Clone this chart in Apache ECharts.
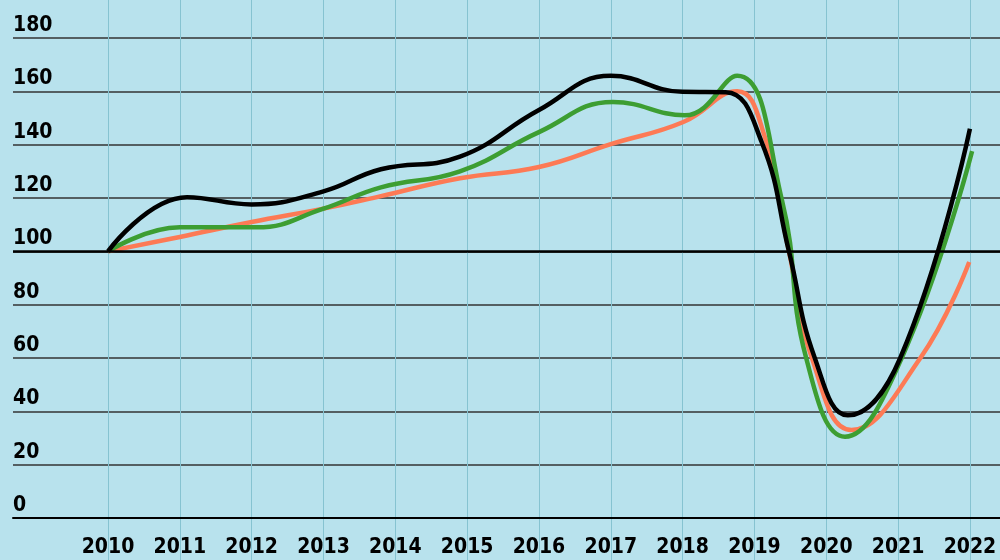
<!DOCTYPE html>
<html>
<head>
<meta charset="utf-8">
<script src="https://cdn.jsdelivr.net/npm/echarts@6/dist/echarts.min.js"></script>
<style>
html,body{margin:0;padding:0;background:#b8e2ed;}
#c2{width:1000px;height:560px;}
</style>
</head>
<body>
<div id="c2"></div>
<script>
var years = [2010,2011,2012,2013,2014,2015,2016,2017,2018,2019,2020,2021,2022];
var yTicks = [0,20,40,60,80,100,120,140,160,180];

// [year, index]
var blackData = [[2010,100],[2011.1,120.3],[2012,117.6],[2013,122.5],[2013.8,130.8],[2014.9,135.5],
  [2016,153],[2017,165.8],[2018,159.8],[2018.6,159.7],[2019.1,141],[2019.48,100],[2019.84,60],
  [2020.3,38.5],[2021.03,60],[2022,146]];
var greenData = [[2010,100],[2011,109],[2012.07,109],[2013,116],[2013.8,124],[2014.9,130],
  [2016,144.7],[2017.03,156],[2018.03,151],[2018.76,165.8],[2019.38,119.5],
  [2019.72,60],[2020.26,30.5],[2021.05,60],[2022.03,137.6]];
var orangeData = [[2010,100],[2011,105.4],[2012,111],[2013,116],[2013.8,120.7],[2014.9,127.4],
  [2016,131.6],[2017,140.2],[2018.01,148.5],[2018.76,160],[2019.12,145],[2019.48,100],[2019.8,60],
  [2020.35,33],[2021.31,60],[2021.99,96]];

var font = '"Liberation Sans Narrow","DejaVu Sans Condensed",sans-serif';
var xMin = 2008.6775, xMax = 2022.4185;

var chart = echarts.init(document.getElementById('c2'));

function lineSeries(name, data, color, z) {
  return {
    name: name, type: 'line', data: data, smooth: 0.45,
    symbol: 'none', z: z, xAxisIndex: 0, yAxisIndex: 0,
    lineStyle: {color: color, width: 4.5}
  };
}

var blackSeries = lineSeries('black', blackData, '#000', 5);
blackSeries.markLine = {silent: true, symbol: 'none', label: {show: false},
  lineStyle: {color: '#000', width: 2.5, type: 'solid'},
  data: [{yAxis: 100}]};

var option = {
  backgroundColor: '#b8e2ed',
  animation: false,
  grid: [
    {left: 13, right: 0, top: 38, bottom: 42},
    {left: 13, right: 0, top: 0, bottom: 0}
  ],
  xAxis: [{
    type: 'value', gridIndex: 0, min: xMin, max: xMax,
    axisLine: {show: true, lineStyle: {color: '#000', width: 2}},
    axisTick: {show: false, customValues: years},
    splitLine: {show: false},
    axisLabel: {customValues: years, formatter: function(v){ return String(Math.round(v)); },
      color: '#000', fontFamily: font, fontSize: 21, fontWeight: 'bold', margin: 19}
  }, {
    type: 'value', gridIndex: 1, min: xMin, max: xMax,
    axisLine: {show: false}, axisLabel: {show: false},
    axisTick: {show: false, customValues: years},
    splitLine: {show: true, lineStyle: {color: '#86c3d1', width: 1}}
  }],
  yAxis: [{
    type: 'value', gridIndex: 0, min: 0, max: 180, interval: 20,
    axisLine: {show: false}, axisTick: {show: false},
    splitLine: {show: true, lineStyle: {color: '#333', width: 1.5}},
    axisLabel: {inside: true, align: 'left', verticalAlign: 'bottom', margin: 0,
      padding: [0,0,2,0], color: '#000', fontFamily: font, fontSize: 21, fontWeight: 'bold',
      formatter: function(v){ return yTicks.indexOf(v) >= 0 ? String(v) : ''; }}
  }, {
    type: 'value', gridIndex: 1, min: 0, max: 1, show: false,
    splitLine: {show: false}
  }],
  series: [
    lineSeries('orange', orangeData, '#fd7a55', 3),
    lineSeries('green', greenData, '#3d9e32', 4),
    blackSeries
  ]
};
chart.setOption(option);
</script>
</body>
</html>
